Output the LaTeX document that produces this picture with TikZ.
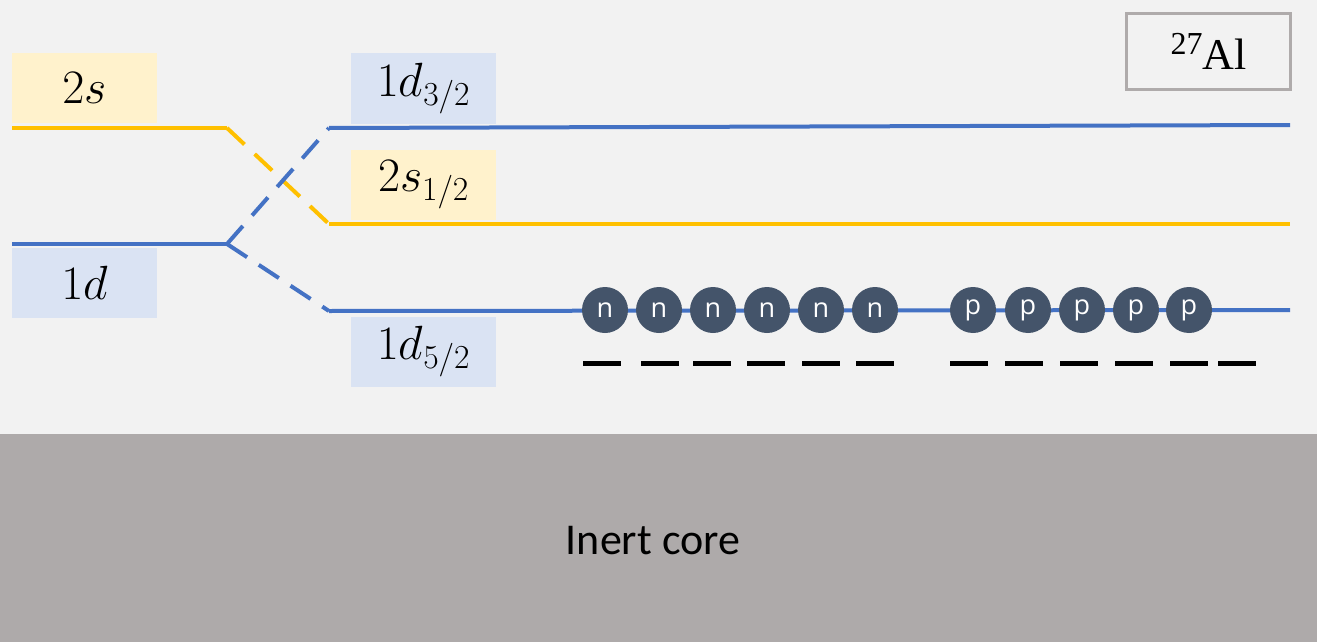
\documentclass[tikz,border=0pt]{standalone}
\usepackage{fix-cm}
\usepackage{fontspec}
\newfontfamily\carlito{Carlito}
\newfontfamily\opensans{Open Sans}
\newfontfamily\libserif{Liberation Serif}
\definecolor{bgc}{HTML}{F2F2F2}
\definecolor{corec}{HTML}{AEAAAA}
\definecolor{blueL}{HTML}{4472C4}
\definecolor{goldL}{HTML}{FFC000}
\definecolor{ybox}{HTML}{FFF2CC}
\definecolor{bbox}{HTML}{DAE3F3}
\definecolor{nucc}{HTML}{44546A}
\definecolor{alb}{HTML}{AFABAB}
\begin{document}
\begin{tikzpicture}[x=1pt,y=-1pt,
  lbl/.style={minimum width=145pt, minimum height=70pt, inner sep=0pt,
    font=\fontsize{48}{56}\selectfont},
  ylbl/.style={lbl, fill=ybox},
  blbl/.style={lbl, fill=bbox},
  blev/.style={draw=blueL, line width=4pt},
  glev/.style={draw=goldL, line width=4pt},
  dsh/.style={dash pattern=on 24pt off 14pt},
  nuc/.style={circle, fill=nucc, minimum size=46pt, inner sep=0pt,
    text=white, font=\opensans\fontsize{27}{30}\selectfont},
  slot/.style={draw=black, line width=5pt}
]
\fill[bgc] (0,0) rectangle (1317,642);
\useasboundingbox (0,0) rectangle (1317,642);
\fill[corec] (0,434) rectangle (1317,642);
\node[font=\carlito\fontsize{44}{52}\selectfont] (core) at (653,541) {Inert core};

% label boxes
\node[ylbl] (l2s) at (84.5,88) {$2s$\hspace{8pt}};
\node[blbl] (l1d) at (84.5,282.5) {$1d$\hspace{8pt}};
\node[blbl] (l1d32) at (423.5,88.5) {$1d_{3/2}$};
\node[ylbl] (l2s12) at (423.5,185) {$2s_{1/2}$};
\node[blbl] (l1d52) at (423.5,351.5) {$1d_{5/2}$};

% Al box
\node[draw=alb, line width=3pt, minimum width=164pt, minimum height=76pt, inner sep=0pt,
  font=\libserif\fontsize{44}{50}\selectfont] (al) at (1208.5,51.5)
  {\raisebox{15pt}{\fontsize{32}{34}\selectfont 27}Al};

% levels
\coordinate (s0) at (12,128);
\coordinate (s1) at (227,128);
\coordinate (s2) at (329,224);
\coordinate (s3) at (1290,224);
\coordinate (d0) at (12,244);
\coordinate (d1) at (227,244);
\coordinate (da) at (329,128);
\coordinate (db) at (1290,125);
\coordinate (dc) at (329,311);
\coordinate (dd) at (1290,310);

\draw[glev] (s0) -- (s1);
\draw[glev, dsh] (s1) -- (s2);
\draw[glev] (s2) -- (s3);
\draw[blev] (d0) -- (d1);
\draw[blev, dsh] (d1) -- (da);
\draw[blev, dsh] (d1) -- (dc);
\draw[blev] (da) -- (db);
\draw[blev] (dc) -- (dd);

% nucleons
\foreach \x [count=\i] in {605,659,713,767,821,875}
  \node[nuc] (n\i) at (\x,310) {n};
\foreach \x [count=\i] in {973,1028,1082,1136,1189}
  \node[nuc] (p\i) at (\x,310) {p};

% slots
\foreach \x in {583,641,693,747,802,856}
  \draw[slot] (\x,363) -- ++(38,0);
\foreach \x in {950,1005,1060,1115,1170,1218}
  \draw[slot] (\x,363) -- ++(38,0);
\end{tikzpicture}
\end{document}
